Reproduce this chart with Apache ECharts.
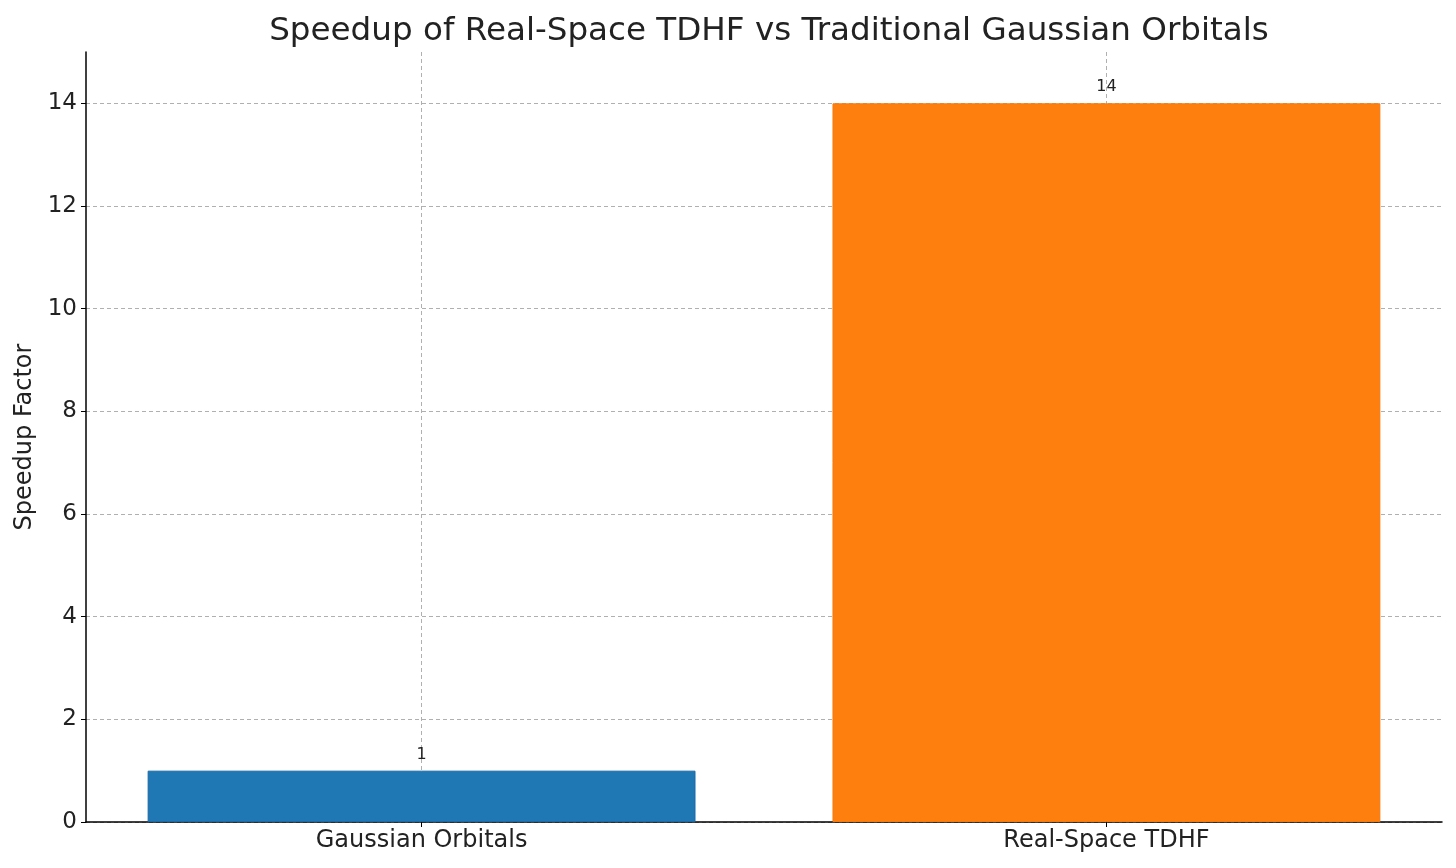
<!DOCTYPE html>
<html>
<head>
<meta charset="utf-8">
<script src="https://cdn.jsdelivr.net/npm/echarts@6/dist/echarts.min.js"></script>
<style>html,body{margin:0;padding:0;background:#fff;}#c{width:1456px;height:868px;}</style>
</head>
<body>
<div id="c"></div>
<script>
const categories = ['Gaussian Orbitals', 'Real-Space TDHF'];
const speedups = [1, 14];
const barColors = ['#1f77b4', '#ff7f0e'];
const edgeColors = ['#1a6aa8', '#f57a0a'];
const yTicks = [0, 2, 4, 6, 8, 10, 12, 14];

const chart = echarts.init(document.getElementById('c'));
const gridLeft = 86, gridRight = 14, gridTop = 52, gridBottom = 46;
const plotW = 1456 - gridLeft - gridRight;
const xMin = -0.49, xMax = 1.49;
const barW = 0.8 * plotW / (xMax - xMin);
const font = 'DejaVu Sans';

chart.setOption({
  backgroundColor: '#fff',
  animation: false,
  title: {
    text: 'Speedup of Real-Space TDHF vs Traditional Gaussian Orbitals',
    left: gridLeft + plotW / 2, textAlign: 'center', top: 10,
    textStyle: { fontFamily: font, fontSize: 32.6, fontWeight: 'normal', color: '#222' }
  },
  grid: { left: gridLeft, right: gridRight, top: gridTop, bottom: gridBottom },
  xAxis: {
    type: 'value', min: xMin, max: xMax,
    axisLine: { show: true, onZero: false, lineStyle: { color: '#000', width: 1.5 } },
    axisTick: { show: true, customValues: [0, 1], length: 5, lineStyle: { color: '#000' } },
    axisLabel: {
      customValues: [0, 1],
      formatter: v => categories[Math.round(v)],
      fontFamily: font, fontSize: 24, color: '#222', margin: 7
    },
    splitLine: { show: true, lineStyle: { color: '#b0b0b0', type: [4, 3], width: 1 } }
  },
  yAxis: {
    type: 'value', min: 0, max: 15,
    name: 'Speedup Factor', nameLocation: 'middle', nameGap: 44,
    nameTextStyle: { fontFamily: font, fontSize: 24, color: '#222' },
    axisLine: { show: true, onZero: false, lineStyle: { color: '#000', width: 1.5 } },
    axisTick: { show: true, length: 5, lineStyle: { color: '#000' }, customValues: yTicks },
    axisLabel: { customValues: yTicks, fontFamily: font, fontSize: 23, color: '#222', margin: 9 },
    splitLine: { show: true, lineStyle: { color: '#b0b0b0', type: [4, 3], width: 1 } }
  },
  series: [{
    type: 'bar',
    barWidth: barW,
    z: 1,
    data: speedups.map((v, i) => ({
      value: [i, v],
      itemStyle: { color: barColors[i], borderColor: edgeColors[i], borderWidth: 1 }
    })),
    label: {
      show: true, position: 'top', distance: 8,
      formatter: p => String(p.value[1]),
      fontFamily: font, fontSize: 16, color: '#222'
    }
  }]
});
</script>
</body>
</html>
